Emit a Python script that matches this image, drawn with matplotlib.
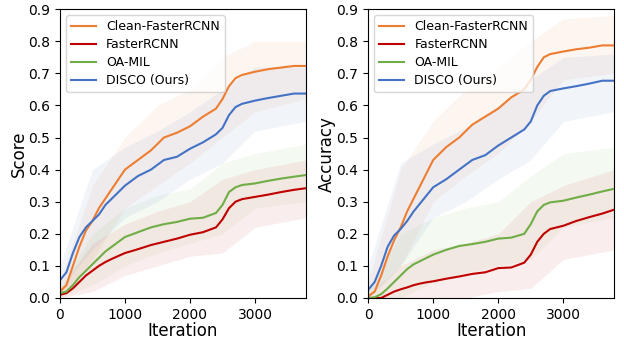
import numpy as np
import matplotlib
matplotlib.use('Agg')
import matplotlib.pyplot as plt

# iteration positions of the smoothed curves
iters = [0, 100, 200, 300, 400, 500, 600, 700, 800, 900, 1000, 1200, 1400, 1600,
         1800, 2000, 2200, 2400, 2500, 2600, 2700, 2800, 3000, 3200, 3400, 3600, 3780]

# left panel: Score
score_clean = [0.02, 0.04, 0.10, 0.16, 0.21, 0.24, 0.28, 0.31, 0.34, 0.37, 0.40, 0.43, 0.46, 0.50,
               0.515, 0.535, 0.565, 0.59, 0.62, 0.66, 0.685, 0.695, 0.705, 0.713, 0.718, 0.723, 0.723]
score_frcnn = [0.01, 0.015, 0.03, 0.05, 0.07, 0.085, 0.10, 0.112, 0.122, 0.131, 0.14, 0.152, 0.165, 0.175,
               0.185, 0.197, 0.205, 0.22, 0.245, 0.28, 0.30, 0.308, 0.315, 0.322, 0.33, 0.337, 0.342]
score_oamil = [0.015, 0.02, 0.04, 0.065, 0.085, 0.105, 0.125, 0.145, 0.16, 0.175, 0.19, 0.205, 0.22, 0.23,
               0.237, 0.247, 0.25, 0.265, 0.29, 0.33, 0.345, 0.352, 0.357, 0.365, 0.372, 0.378, 0.383]
score_disco = [0.055, 0.08, 0.14, 0.19, 0.22, 0.24, 0.26, 0.29, 0.31, 0.33, 0.35, 0.38, 0.40, 0.43,
               0.44, 0.465, 0.485, 0.51, 0.53, 0.57, 0.595, 0.605, 0.615, 0.623, 0.63, 0.637, 0.637]

# right panel: Accuracy
acc_clean = [0.005, 0.02, 0.07, 0.13, 0.18, 0.22, 0.27, 0.31, 0.35, 0.39, 0.43, 0.47, 0.50, 0.54,
             0.565, 0.59, 0.625, 0.65, 0.68, 0.72, 0.75, 0.76, 0.768, 0.775, 0.78, 0.787, 0.787]
acc_frcnn = [0.0, 0.0, 0.0, 0.01, 0.02, 0.027, 0.033, 0.04, 0.045, 0.049, 0.052, 0.06, 0.067, 0.075,
             0.08, 0.093, 0.095, 0.11, 0.135, 0.175, 0.20, 0.215, 0.225, 0.24, 0.252, 0.263, 0.275]
acc_oamil = [0.0, 0.002, 0.012, 0.03, 0.05, 0.07, 0.09, 0.105, 0.115, 0.125, 0.135, 0.15, 0.162, 0.168,
             0.175, 0.185, 0.188, 0.20, 0.23, 0.27, 0.29, 0.298, 0.303, 0.313, 0.322, 0.332, 0.34]
acc_disco = [0.025, 0.05, 0.10, 0.16, 0.195, 0.215, 0.24, 0.27, 0.295, 0.32, 0.345, 0.37, 0.40, 0.43,
             0.445, 0.475, 0.50, 0.525, 0.55, 0.60, 0.63, 0.645, 0.653, 0.66, 0.668, 0.677, 0.677]

# rough envelope of the raw (unsmoothed) traces
band_iters = [0, 500, 1000, 1500, 2000, 2500, 3000, 3780]
score_clean_lo = [0.0, 0.12, 0.28, 0.35, 0.42, 0.50, 0.58, 0.62]
score_clean_hi = [0.05, 0.35, 0.50, 0.60, 0.65, 0.75, 0.80, 0.80]
score_frcnn_lo = [0.0, 0.02, 0.07, 0.10, 0.13, 0.14, 0.22, 0.25]
score_frcnn_hi = [0.03, 0.17, 0.23, 0.27, 0.30, 0.37, 0.40, 0.43]
score_oamil_lo = [0.0, 0.04, 0.10, 0.14, 0.17, 0.20, 0.28, 0.30]
score_oamil_hi = [0.03, 0.20, 0.28, 0.32, 0.34, 0.42, 0.45, 0.48]
score_disco_lo = [0.03, 0.15, 0.25, 0.30, 0.37, 0.42, 0.52, 0.55]
score_disco_hi = [0.10, 0.40, 0.47, 0.52, 0.58, 0.65, 0.72, 0.72]

acc_clean_lo = [0.0, 0.10, 0.30, 0.38, 0.45, 0.55, 0.68, 0.70]
acc_clean_hi = [0.05, 0.40, 0.55, 0.65, 0.72, 0.80, 0.87, 0.88]
acc_frcnn_lo = [0.0, 0.0, 0.0, 0.0, 0.02, 0.03, 0.12, 0.15]
acc_frcnn_hi = [0.01, 0.10, 0.15, 0.17, 0.20, 0.30, 0.35, 0.40]
acc_oamil_lo = [0.0, 0.0, 0.05, 0.08, 0.10, 0.12, 0.22, 0.25]
acc_oamil_hi = [0.02, 0.20, 0.25, 0.28, 0.30, 0.38, 0.45, 0.47]
acc_disco_lo = [0.0, 0.10, 0.25, 0.30, 0.37, 0.43, 0.55, 0.58]
acc_disco_hi = [0.10, 0.42, 0.48, 0.53, 0.60, 0.68, 0.75, 0.76]

labels = ['Clean-FasterRCNN', 'FasterRCNN', 'OA-MIL', 'DISCO (Ours)']
colors = ['#ED7D31', '#C00000', '#70AD47', '#4472C4']

fig = plt.figure(figsize=(6.24, 3.39), dpi=100)
ax1 = fig.add_axes([0.096, 0.121, 0.394, 0.852])
ax2 = fig.add_axes([0.590, 0.121, 0.394, 0.852])

panels = [
    (ax1, 'Score', [score_clean, score_frcnn, score_oamil, score_disco],
     [(score_clean_lo, score_clean_hi), (score_frcnn_lo, score_frcnn_hi),
      (score_oamil_lo, score_oamil_hi), (score_disco_lo, score_disco_hi)]),
    (ax2, 'Accuracy', [acc_clean, acc_frcnn, acc_oamil, acc_disco],
     [(acc_clean_lo, acc_clean_hi), (acc_frcnn_lo, acc_frcnn_hi),
      (acc_oamil_lo, acc_oamil_hi), (acc_disco_lo, acc_disco_hi)]),
]

for ax, ylab, series, bands in panels:
    for (lo, hi), c in zip(bands, colors):
        ax.fill_between(band_iters, lo, hi, color=c, alpha=0.07, lw=0)
    for s, c, lab in zip(series, colors, labels):
        ax.plot(iters, s, color=c, lw=1.5, label=lab)
    ax.set_xlim(0, 3780)
    ax.set_ylim(0, 0.9)
    ax.set_yticks(np.arange(0, 0.91, 0.1))
    ax.set_xticks([0, 1000, 2000, 3000])
    ax.tick_params(labelsize=10)
    ax.set_xlabel('Iteration', fontsize=12, labelpad=0)
    ax.set_ylabel(ylab, fontsize=12, labelpad=0.5)
    ax.legend(loc='upper left', fontsize=9, labelspacing=0.4, handlelength=2.0)

fig.savefig('out.png', dpi=100)
